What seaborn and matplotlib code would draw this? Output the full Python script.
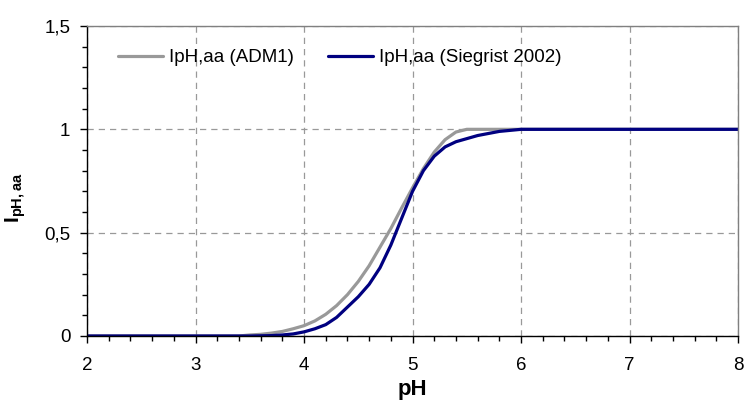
import matplotlib
matplotlib.use("Agg")
import matplotlib.pyplot as plt
from matplotlib.ticker import MultipleLocator, FuncFormatter
import seaborn as sns
import pandas as pd

# values
ph = [2.0, 3.4, 3.5, 3.6, 3.7, 3.8, 3.9, 4.0, 4.1, 4.2, 4.3, 4.4, 4.5, 4.6, 4.7,
      4.8, 4.9, 5.0, 5.1, 5.2, 5.3, 5.4, 5.5, 5.6, 5.7, 5.8, 5.9, 6.0, 8.0]
i_adm1 = [0.0, 0.0, 0.005, 0.008, 0.014, 0.022, 0.035, 0.05, 0.073, 0.105, 0.147,
          0.20, 0.264, 0.34, 0.43, 0.52, 0.62, 0.717, 0.81, 0.89, 0.95, 0.987,
          1.0, 1.0, 1.0, 1.0, 1.0, 1.0, 1.0]
i_siegrist = [0.0, 0.0, 0.0, 0.001, 0.002, 0.005, 0.01, 0.02, 0.035, 0.055, 0.09,
              0.14, 0.19, 0.25, 0.33, 0.44, 0.57, 0.70, 0.80, 0.87, 0.915, 0.94,
              0.955, 0.97, 0.98, 0.99, 0.995, 1.0, 1.0]
labels = ["IpH,aa (ADM1)", "IpH,aa (Siegrist 2002)"]

df = pd.DataFrame({"pH": ph, "adm1": i_adm1, "sieg": i_siegrist})

sns.set_style("white")
plt.rcParams["font.family"] = ["Liberation Sans", "DejaVu Sans"]
plt.rcParams["mathtext.fontset"] = "custom"
plt.rcParams["mathtext.rm"] = "Liberation Sans"
plt.rcParams["mathtext.bf"] = "Liberation Sans:bold"
for k in ["text.color", "axes.labelcolor", "xtick.color", "ytick.color"]:
    plt.rcParams[k] = "black"

fig = plt.figure(figsize=(7.44, 4.0), dpi=100)
ax = fig.add_axes([0.117, 0.16, 0.875, 0.775])

sns.lineplot(data=df, x="pH", y="adm1", color="#999999", linewidth=2.3,
             label=labels[0], ax=ax)
sns.lineplot(data=df, x="pH", y="sieg", color="#000080", linewidth=2.3,
             label=labels[1], ax=ax)

ax.set_xlim(2, 8)
ax.set_ylim(0, 1.5)
ax.xaxis.set_major_locator(MultipleLocator(1))
ax.xaxis.set_minor_locator(MultipleLocator(0.2))
ax.yaxis.set_major_locator(MultipleLocator(0.5))
ax.yaxis.set_minor_locator(MultipleLocator(0.1))
ax.yaxis.set_major_formatter(FuncFormatter(lambda v, p: f"{v:g}".replace(".", ",")))

ax.grid(True, which="major", color="#999999", linestyle=(0, (5, 4)), linewidth=0.9)
ax.set_axisbelow(True)

ax.tick_params(axis="both", which="major", direction="out", length=5, width=1,
               labelsize=13.5, bottom=True, left=True)
ax.tick_params(axis="both", which="minor", direction="out", length=3.6, width=1,
               bottom=True, left=True)
ax.tick_params(axis="x", which="major", pad=10)
ax.tick_params(axis="y", which="major", pad=7)

for s in ["left", "bottom"]:
    ax.spines[s].set_color("black")
    ax.spines[s].set_linewidth(1)
for s in ["top", "right"]:
    ax.spines[s].set_color("#808080")
    ax.spines[s].set_linewidth(1)

ax.set_xlabel("pH", fontsize=16, fontweight="bold", va="center")
ax.xaxis.set_label_coords(0.5, -0.171)
ax.set_ylabel(r"$\mathbf{I}_{\mathbf{pH,aa}}$", fontsize=15, va="center")
ax.yaxis.set_label_coords(-0.11, 0.445)

ax.legend(loc="center left", bbox_to_anchor=(0.0476, 0.897), ncol=2, frameon=False,
          fontsize=13.5, handlelength=2.4, handletextpad=0.32, columnspacing=1.8,
          borderpad=0, borderaxespad=0)

fig.savefig("out.png", dpi=100)
